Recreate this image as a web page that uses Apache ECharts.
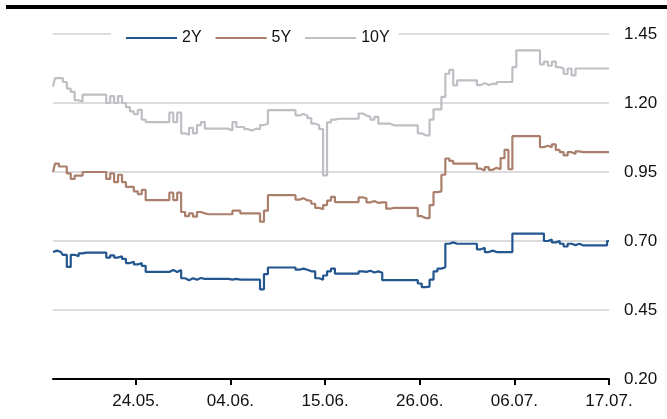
<!DOCTYPE html>
<html>
<head>
<meta charset="utf-8">
<script src="https://cdn.jsdelivr.net/npm/echarts@6/dist/echarts.min.js"></script>
<style>html,body{margin:0;padding:0;background:#fff;}#chart{width:667px;height:419px;}</style>
</head>
<body>
<div id="chart"></div>
<script>
const seriesNames = ['2Y', '5Y', '10Y'];
const tickLabels = ['24.05.', '04.06.', '15.06.', '26.06.', '06.07.', '17.07.'];
const tickIndex = [21, 45, 69, 93, 117, 141];
const yTicks = [0.20, 0.45, 0.70, 0.95, 1.20, 1.45];

const y10 = [
1.26,1.29,1.29,1.276,1.252,1.24,1.21,1.205,1.23,1.23,
1.23,1.23,1.23,1.23,1.20,1.225,1.20,1.225,1.20,1.185,
1.17,1.16,1.175,1.14,1.131,1.131,1.131,1.131,1.131,1.131,
1.165,1.131,1.165,1.09,1.085,1.11,1.09,1.12,1.131,1.107,
1.107,1.107,1.107,1.107,1.107,1.10,1.131,1.113,1.113,1.105,
1.10,1.107,1.105,1.12,1.125,1.174,1.174,1.174,1.174,1.174,
1.174,1.174,1.155,1.16,1.155,1.145,1.125,1.12,1.105,0.938,
1.13,1.14,1.143,1.143,1.143,1.143,1.143,1.143,1.162,1.155,
1.15,1.14,1.15,1.125,1.125,1.125,1.119,1.119,1.119,1.119,
1.119,1.119,1.119,1.09,1.083,1.083,1.14,1.177,1.177,1.222,
1.306,1.32,1.264,1.282,1.282,1.282,1.282,1.282,1.265,1.272,
1.265,1.27,1.268,1.276,1.276,1.276,1.276,1.33,1.391,1.391,
1.391,1.391,1.391,1.391,1.34,1.35,1.335,1.35,1.33,1.325,
1.305,1.325,1.30,1.325,1.325,1.325,1.325,1.325,1.325,1.325,
1.325,1.325];

const y5 = [
0.95,0.98,0.97,0.97,0.945,0.925,0.937,0.937,0.95,0.95,
0.95,0.95,0.95,0.95,0.925,0.945,0.913,0.94,0.913,0.896,
0.896,0.88,0.87,0.885,0.848,0.848,0.848,0.848,0.848,0.848,
0.875,0.848,0.875,0.805,0.79,0.80,0.788,0.805,0.80,0.797,
0.797,0.797,0.797,0.797,0.797,0.797,0.81,0.81,0.80,0.80,
0.80,0.80,0.80,0.77,0.81,0.866,0.866,0.866,0.866,0.866,
0.866,0.866,0.85,0.855,0.848,0.845,0.835,0.82,0.815,0.83,
0.846,0.86,0.841,0.841,0.841,0.841,0.841,0.841,0.858,0.855,
0.84,0.845,0.838,0.84,0.84,0.817,0.82,0.82,0.82,0.82,
0.82,0.82,0.82,0.79,0.783,0.783,0.83,0.877,0.88,0.94,
0.999,0.99,0.98,0.98,0.98,0.98,0.98,0.98,0.962,0.955,
0.968,0.958,0.965,0.96,1.0,1.03,0.96,1.08,1.08,1.08,
1.08,1.08,1.08,1.08,1.04,1.045,1.04,1.05,1.03,1.022,
1.01,1.022,1.015,1.025,1.022,1.022,1.022,1.022,1.022,1.022,
1.022,1.022];

const y2 = [
0.66,0.665,0.66,0.65,0.606,0.65,0.645,0.655,0.658,0.658,
0.658,0.658,0.658,0.658,0.64,0.648,0.64,0.645,0.635,0.62,
0.625,0.615,0.62,0.61,0.588,0.588,0.588,0.588,0.588,0.588,
0.595,0.588,0.595,0.565,0.558,0.565,0.56,0.566,0.563,0.563,
0.563,0.563,0.563,0.563,0.563,0.56,0.563,0.56,0.56,0.56,
0.56,0.56,0.56,0.525,0.58,0.604,0.604,0.604,0.604,0.604,
0.604,0.604,0.596,0.60,0.596,0.59,0.59,0.565,0.56,0.575,
0.59,0.60,0.582,0.582,0.582,0.582,0.582,0.582,0.59,0.588,
0.592,0.586,0.59,0.585,0.558,0.558,0.558,0.558,0.558,0.558,
0.558,0.558,0.558,0.546,0.533,0.535,0.56,0.59,0.60,0.605,
0.69,0.695,0.69,0.69,0.69,0.69,0.69,0.69,0.67,0.675,
0.66,0.665,0.66,0.66,0.66,0.66,0.66,0.727,0.727,0.727,
0.727,0.727,0.727,0.727,0.727,0.70,0.705,0.695,0.70,0.69,
0.68,0.69,0.685,0.69,0.684,0.684,0.684,0.684,0.684,0.684,
0.684,0.70];

// y axis base: ticks must start at 0.20, so values are measured from it
const BASE = yTicks[0];
const STEP = yTicks[1] - yTicks[0];
const periods = y10.map((_, i) => {
  const k = tickIndex.indexOf(i);
  return k >= 0 ? tickLabels[k] : 'p' + i;
});
const shift = arr => arr.map(v => +(v - BASE).toFixed(4));
const showTick = idx => tickIndex.indexOf(idx) >= 0;
const FONT = 'Liberation Sans, Arial, sans-serif';

const chart = echarts.init(document.getElementById('chart'), null, {renderer: 'canvas'});
const colors = ['#23558f', '#aa7f6b', '#bdbfc4'];
const dataSets = [y2, y5, y10];

chart.setOption({
  animation: false,
  backgroundColor: '#fff',
  graphic: [{
    type: 'rect', left: 6, top: 5, z: 10,
    shape: {width: 661, height: 4},
    style: {fill: '#000'}
  }],
  grid: {left: 53, right: 58, top: 34, bottom: 40},
  legend: {
    data: seriesNames,
    icon: 'rect',
    left: 111, top: 26,
    padding: [4, 9, 4, 15],
    backgroundColor: '#fff',
    itemWidth: 51, itemHeight: 2, itemGap: 14,
    textStyle: {fontFamily: FONT, fontSize: 16, color: '#111'}
  },
  xAxis: {
    type: 'category',
    data: periods,
    boundaryGap: false,
    axisLine: {lineStyle: {color: '#000', width: 2}},
    axisTick: {interval: showTick, length: 6, lineStyle: {color: '#000', width: 2}},
    axisLabel: {interval: showTick, margin: 14, fontSize: 17, color: '#111', fontFamily: FONT},
    splitLine: {show: false}
  },
  yAxis: {
    type: 'value',
    position: 'right',
    min: 0,
    max: +(yTicks[yTicks.length - 1] - BASE).toFixed(4),
    interval: STEP,
    axisLine: {show: false},
    axisTick: {show: false},
    axisLabel: {margin: 15, fontSize: 17, color: '#111', fontFamily: FONT,
      formatter: v => (v + BASE).toFixed(2)},
    splitLine: {lineStyle: {color: '#dcdcdc', width: 2}}
  },
  series: seriesNames.map((name, k) => ({
    name: name,
    type: 'line',
    step: 'middle',
    symbol: 'none',
    data: shift(dataSets[k]),
    color: colors[k],
    lineStyle: {color: colors[k], width: 2.2}
  }))
});
</script>
</body>
</html>
